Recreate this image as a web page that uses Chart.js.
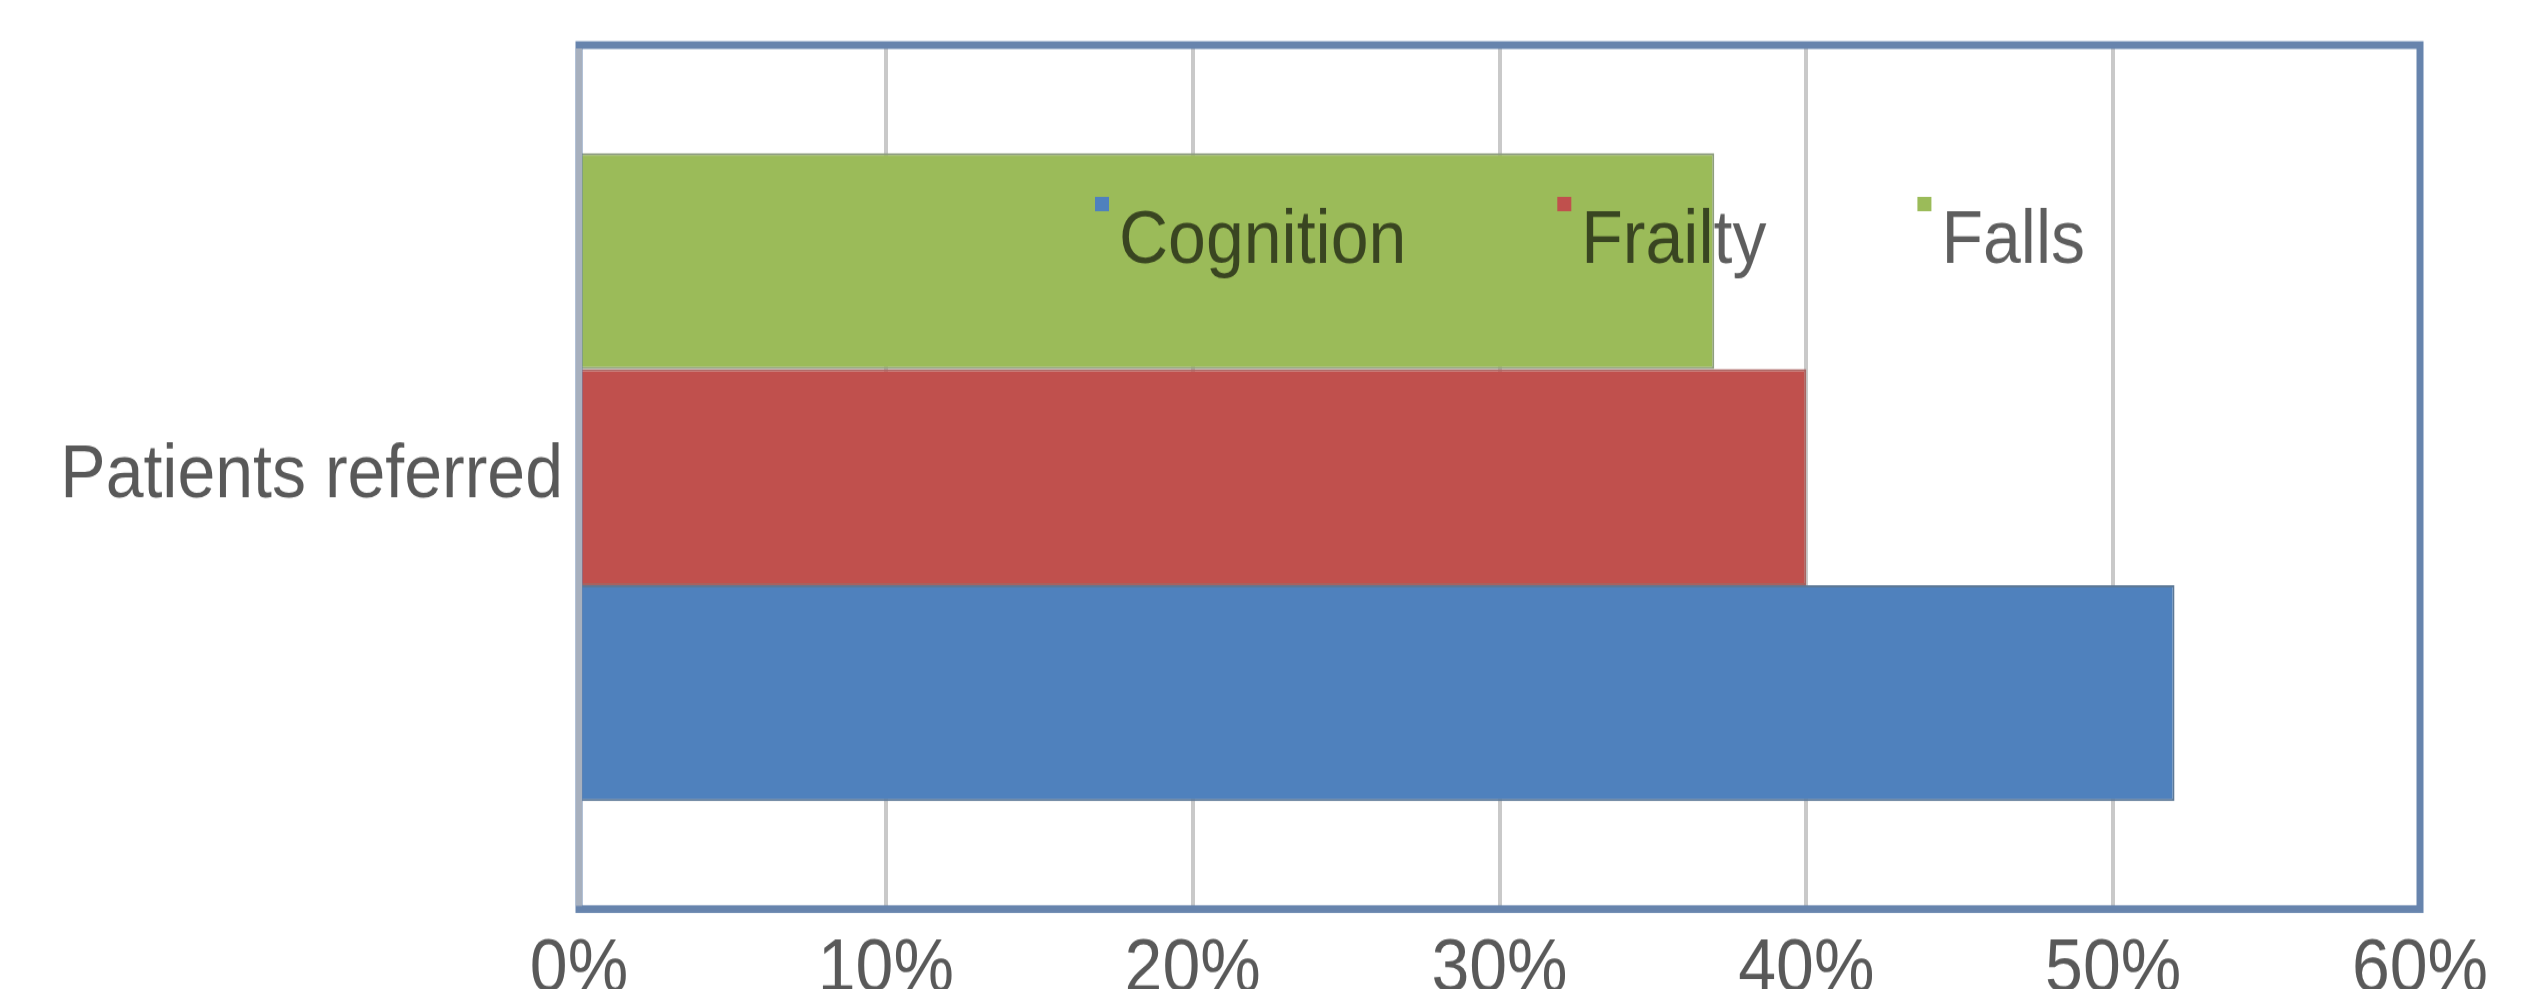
<!DOCTYPE html>
<html>
<head>
<meta charset="utf-8">
<script src="https://cdn.jsdelivr.net/npm/chart.js@4.4.1/dist/chart.umd.min.js"></script>
<style>
  html, body { margin: 0; padding: 0; background: #fff; overflow: hidden; }
  /* source picture is a little taller than wide, so stretch the canvas a bit */
  #wrap { position: absolute; left: 0; top: 0; width: 2545px; height: 946px; transform: scaleY(1.1); transform-origin: 0 0; }
</style>
</head>
<body>
<div id="wrap"><canvas id="myChart" width="2545" height="946"></canvas></div>
<script>
// chart values
const categories = ["Patients referred"];
const cognition = [52];
const frailty = [40];
const falls = [37];
const xTickLabels = ["0%", "10%", "20%", "30%", "40%", "50%", "60%"];

const FONT = "'Liberation Sans', Arial, sans-serif";
const TEXT = "#595959";

// frame round the plot area, like the excel plot border
const plotFrame = {
  id: "plotFrame",
  afterDatasetsDraw(chart) {
    const { ctx, chartArea: a } = chart;
    ctx.save();
    ctx.lineWidth = 7;
    ctx.strokeStyle = "#6784AD";
    ctx.strokeRect(a.left, a.top, a.right - a.left, a.bottom - a.top);
    ctx.lineWidth = 6;
    ctx.strokeStyle = "#A7B0BE";
    ctx.beginPath();
    ctx.moveTo(a.left, a.top + 3);
    ctx.lineTo(a.left, a.bottom - 3);
    ctx.stroke();
    ctx.restore();
  },
};

// legend sits inside the plot, over the bars
const plotLegend = {
  id: "plotLegend",
  afterDraw(chart) {
    const { ctx, chartArea: a } = chart;
    const items = chart.data.datasets.slice().reverse();
    ctx.save();
    ctx.font = "68px " + FONT;
    ctx.textBaseline = "alphabetic";
    let x = a.left + 512;
    const y = a.top + 198;
    items.forEach((ds) => {
      ctx.fillStyle = ds.backgroundColor;
      ctx.fillRect(x + 4, y - 60, 14, 13);
      ctx.fillStyle = "rgba(0,0,0,0.63)";
      ctx.fillText(ds.label, x + 28, y);
      x += 28 + ctx.measureText(ds.label).width + 147;
    });
    ctx.restore();
  },
};

const ctx = document.getElementById("myChart");

new Chart(ctx, {
  type: "bar",
  data: {
    labels: categories,
    datasets: [
      { label: "Falls", data: falls, backgroundColor: "#9BBB59", borderColor: "#8E9E7E", borderWidth: 2 },
      { label: "Frailty", data: frailty, backgroundColor: "#C0504D", borderColor: "#A8625F", borderWidth: 2 },
      { label: "Cognition", data: cognition, backgroundColor: "#4F81BD", borderColor: "#5C7896", borderWidth: 2 },
    ],
  },
  options: {
    indexAxis: "y",
    responsive: false,
    animation: false,
    categoryPercentage: 0.75,
    barPercentage: 1,
    layout: { padding: { top: 41, right: 125, left: 0, bottom: 0 } },
    plugins: {
      legend: { display: false },
      tooltip: { enabled: false },
    },
    scales: {
      x: {
        min: 0,
        max: 60,
        ticks: {
          stepSize: 10,
          padding: 15,
          color: TEXT,
          font: { family: FONT, size: 68 },
          callback: function (value, index) {
            return xTickLabels[index];
          },
        },
        grid: { color: "#C9C9C9", lineWidth: 4, drawTicks: false },
        border: { display: false },
        afterFit: function (scale) {
          scale.height = 119.6;
          scale.paddingLeft = 0;
          scale.paddingRight = 0;
        },
      },
      y: {
        ticks: {
          padding: 16,
          color: TEXT,
          font: { family: FONT, size: 68 },
        },
        grid: { display: false, drawTicks: false },
        border: { display: false },
        afterFit: function (scale) {
          scale.width = 579;
          scale.paddingTop = 0;
          scale.paddingBottom = 0;
        },
      },
    },
  },
  plugins: [plotFrame, plotLegend],
});
</script>
</body>
</html>
